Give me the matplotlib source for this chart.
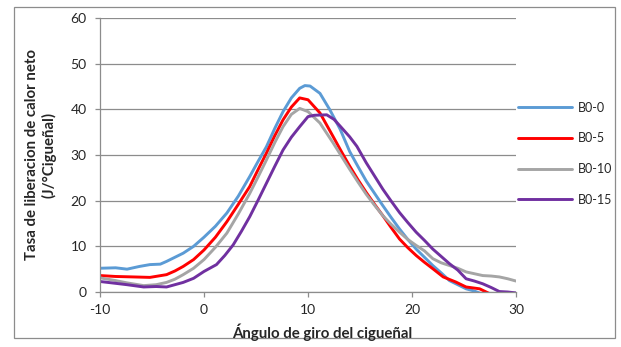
import matplotlib
matplotlib.use("Agg")
import matplotlib.pyplot as plt
from matplotlib.patches import Rectangle

plt.rcParams["axes.unicode_minus"] = False

# crank angle (deg) and net heat release rate (J/deg)
x_b00 = [-10, -8.5, -7.4, -6.2, -5.2, -4.2, -3.6, -2.8, -2, -1, 0, 1.1, 2.2, 3.3, 4.4,
         5.2, 6, 6.8, 7.6, 8.4, 9.2, 9.7, 10.2, 11.15, 12.1, 13.1, 14, 14.8, 15.6,
         16.4, 17.2, 18, 18.8, 19.6, 20.4, 21.2, 22, 22.8, 23.6, 24.4, 25.2, 26, 26.7]
y_b00 = [5.2, 5.3, 5.0, 5.6, 6.0, 6.1, 6.7, 7.6, 8.5, 10.0, 12.0, 14.4, 17.3, 21.0, 25.3,
         28.6, 31.8, 35.8, 39.5, 42.5, 44.6, 45.2, 45.1, 43.5, 39.9, 35.6, 30.8, 27.5, 24.3,
         21.6, 18.9, 16.3, 13.8, 11.5, 9.4, 7.6, 5.8, 4.2, 2.5, 1.6, 0.7, 0.2, -0.4]

x_b05 = [-10, -8.5, -6.8, -5.2, -3.6, -2.8, -2, -1, 0, 1.1, 2.2, 3.3, 4.4, 5.2, 6,
         6.8, 7.6, 8.4, 9.2, 10, 11.15, 12.4, 13.2, 14, 14.8, 15.6, 16.4, 17.2, 18,
         18.8, 19.6, 20.4, 21.2, 22, 23, 24.2, 25.2, 26.5, 27.5]
y_b05 = [3.6, 3.4, 3.3, 3.2, 3.8, 4.6, 5.6, 7.1, 9.2, 12.0, 15.4, 19.2, 23.1, 26.8, 30.4,
         34.2, 37.7, 40.5, 42.5, 42.1, 39.2, 34.1, 30.8, 27.6, 24.6, 21.8, 19.2, 16.7, 14.1,
         11.6, 9.7, 8.0, 6.5, 5.1, 3.3, 2.2, 1.1, 0.7, -0.4]

x_b10 = [-10, -8.5, -7.4, -5.8, -4.6, -3.6, -2.8, -2, -1, 0, 1.1, 2.2, 3.3, 4.4, 5.2,
         6, 6.8, 7.6, 8.4, 9.2, 10, 11.15, 12.4, 13.2, 14, 14.8, 15.6, 16.4, 17.2,
         18, 18.8, 19.6, 20.4, 21.2, 22, 22.8, 23.6, 24.4, 25.2, 26, 26.8, 27.6, 28.4,
         29.2, 30]
y_b10 = [3.1, 2.5, 2.0, 1.4, 1.6, 2.1, 2.8, 3.8, 5.2, 7.1, 9.8, 12.9, 17.1, 21.6, 25.2,
         28.9, 32.7, 36.2, 38.9, 40.2, 39.5, 37.0, 32.7, 29.8, 26.9, 24.1, 21.4, 19.0, 16.7,
         14.8, 13.1, 11.5, 10.2, 9.0, 7.3, 6.4, 5.8, 5.2, 4.4, 4.0, 3.6, 3.5, 3.3,
         2.9, 2.4]

x_b15 = [-10, -8.5, -7.4, -5.8, -4.6, -3.6, -2.8, -2, -1, 0, 1.2, 2, 2.8, 3.6, 4.4,
         5.2, 6, 6.8, 7.6, 8.4, 9.2, 10, 10.6, 11.8, 12.5, 13.1, 14, 14.7, 15.6, 16.4,
         17.2, 18, 18.8, 19.6, 20.4, 21.2, 22, 22.8, 23.6, 24.4, 25.2, 26, 26.8, 27.6,
         28.4, 29.2, 30]
y_b15 = [2.3, 1.9, 1.6, 1.1, 1.2, 1.1, 1.6, 2.1, 3.0, 4.5, 6.0, 8.0, 10.3, 13.3, 16.5,
         20.1, 23.8, 27.5, 31.1, 33.9, 36.2, 38.4, 38.7, 38.8, 37.8, 36.3, 34.0, 31.9, 28.3,
         25.4, 22.5, 19.9, 17.4, 15.2, 13.1, 11.3, 9.4, 7.8, 6.2, 4.8, 2.9, 2.4, 1.8, 1.0,
         0.1, 0.0, -0.2]

series = [("B0-0", x_b00, y_b00, "#5B9BD5"),
          ("B0-5", x_b05, y_b05, "#FF0000"),
          ("B0-10", x_b10, y_b10, "#A5A5A5"),
          ("B0-15", x_b15, y_b15, "#7030A0")]

x_ticks = [-10, 0, 10, 20, 30]
y_ticks = [0, 10, 20, 30, 40, 50, 60]

FONT = ["Lato", "DejaVu Sans"]
TXT = "#262626"
GRID = "#8C8C8C"
W, H = 621, 347

fig = plt.figure(figsize=(W / 100, H / 100), dpi=100)
fig.patch.set_facecolor("white")
fig.patches.append(Rectangle((14 / W, 9 / H), 601 / W, 331 / H,
                             transform=fig.transFigure, fill=False,
                             edgecolor="#8C8C8C", lw=0.9))

ax = fig.add_axes([100 / W, 55 / H, 416 / W, 274 / H])
for name, xs, ys, c in series:
    ax.plot(xs, ys, color=c, lw=2.1, label=name, solid_capstyle="round")

ax.set_xlim(-10, 30)
ax.set_ylim(0, 60)
ax.set_xticks(x_ticks)
ax.set_yticks(y_ticks)
ax.yaxis.grid(True, color=GRID, lw=0.9)
ax.set_axisbelow(True)
for s in ("top", "right"):
    ax.spines[s].set_visible(False)
for s in ("left", "bottom"):
    ax.spines[s].set_color(GRID)
    ax.spines[s].set_linewidth(0.9)
ax.tick_params(direction="out", length=3.6, color=GRID, width=0.9,
               labelsize=10, labelcolor=TXT)
ax.tick_params(axis="y", pad=6)
ax.tick_params(axis="x", pad=5)
for lab in ax.get_xticklabels() + ax.get_yticklabels():
    lab.set_family(FONT)

# axis titles placed where the reference has them
fig.text(322 / W, 1 - 332 / H, "Ángulo de giro del cigueñal", fontsize=10.8,
         fontweight="bold", color=TXT, family=FONT, ha="center", va="center")
fig.text(41 / W, 1 - 155 / H, "Tasa de liberacion de calor neto\n(J/°Cigueñal)",
         fontsize=10.8, fontweight="bold", color=TXT, family=FONT, ha="center",
         va="center", rotation=90, multialignment="center", linespacing=1.2)

leg = ax.legend(loc="center left", bbox_to_anchor=(1.005, 0.505), frameon=False,
                prop={"family": FONT, "size": 9}, handlelength=4.3,
                handletextpad=0.45, labelspacing=1.5, borderpad=0,
                borderaxespad=0)
for t in leg.get_texts():
    t.set_color(TXT)

fig.savefig("out.png", dpi=100, facecolor="white")
